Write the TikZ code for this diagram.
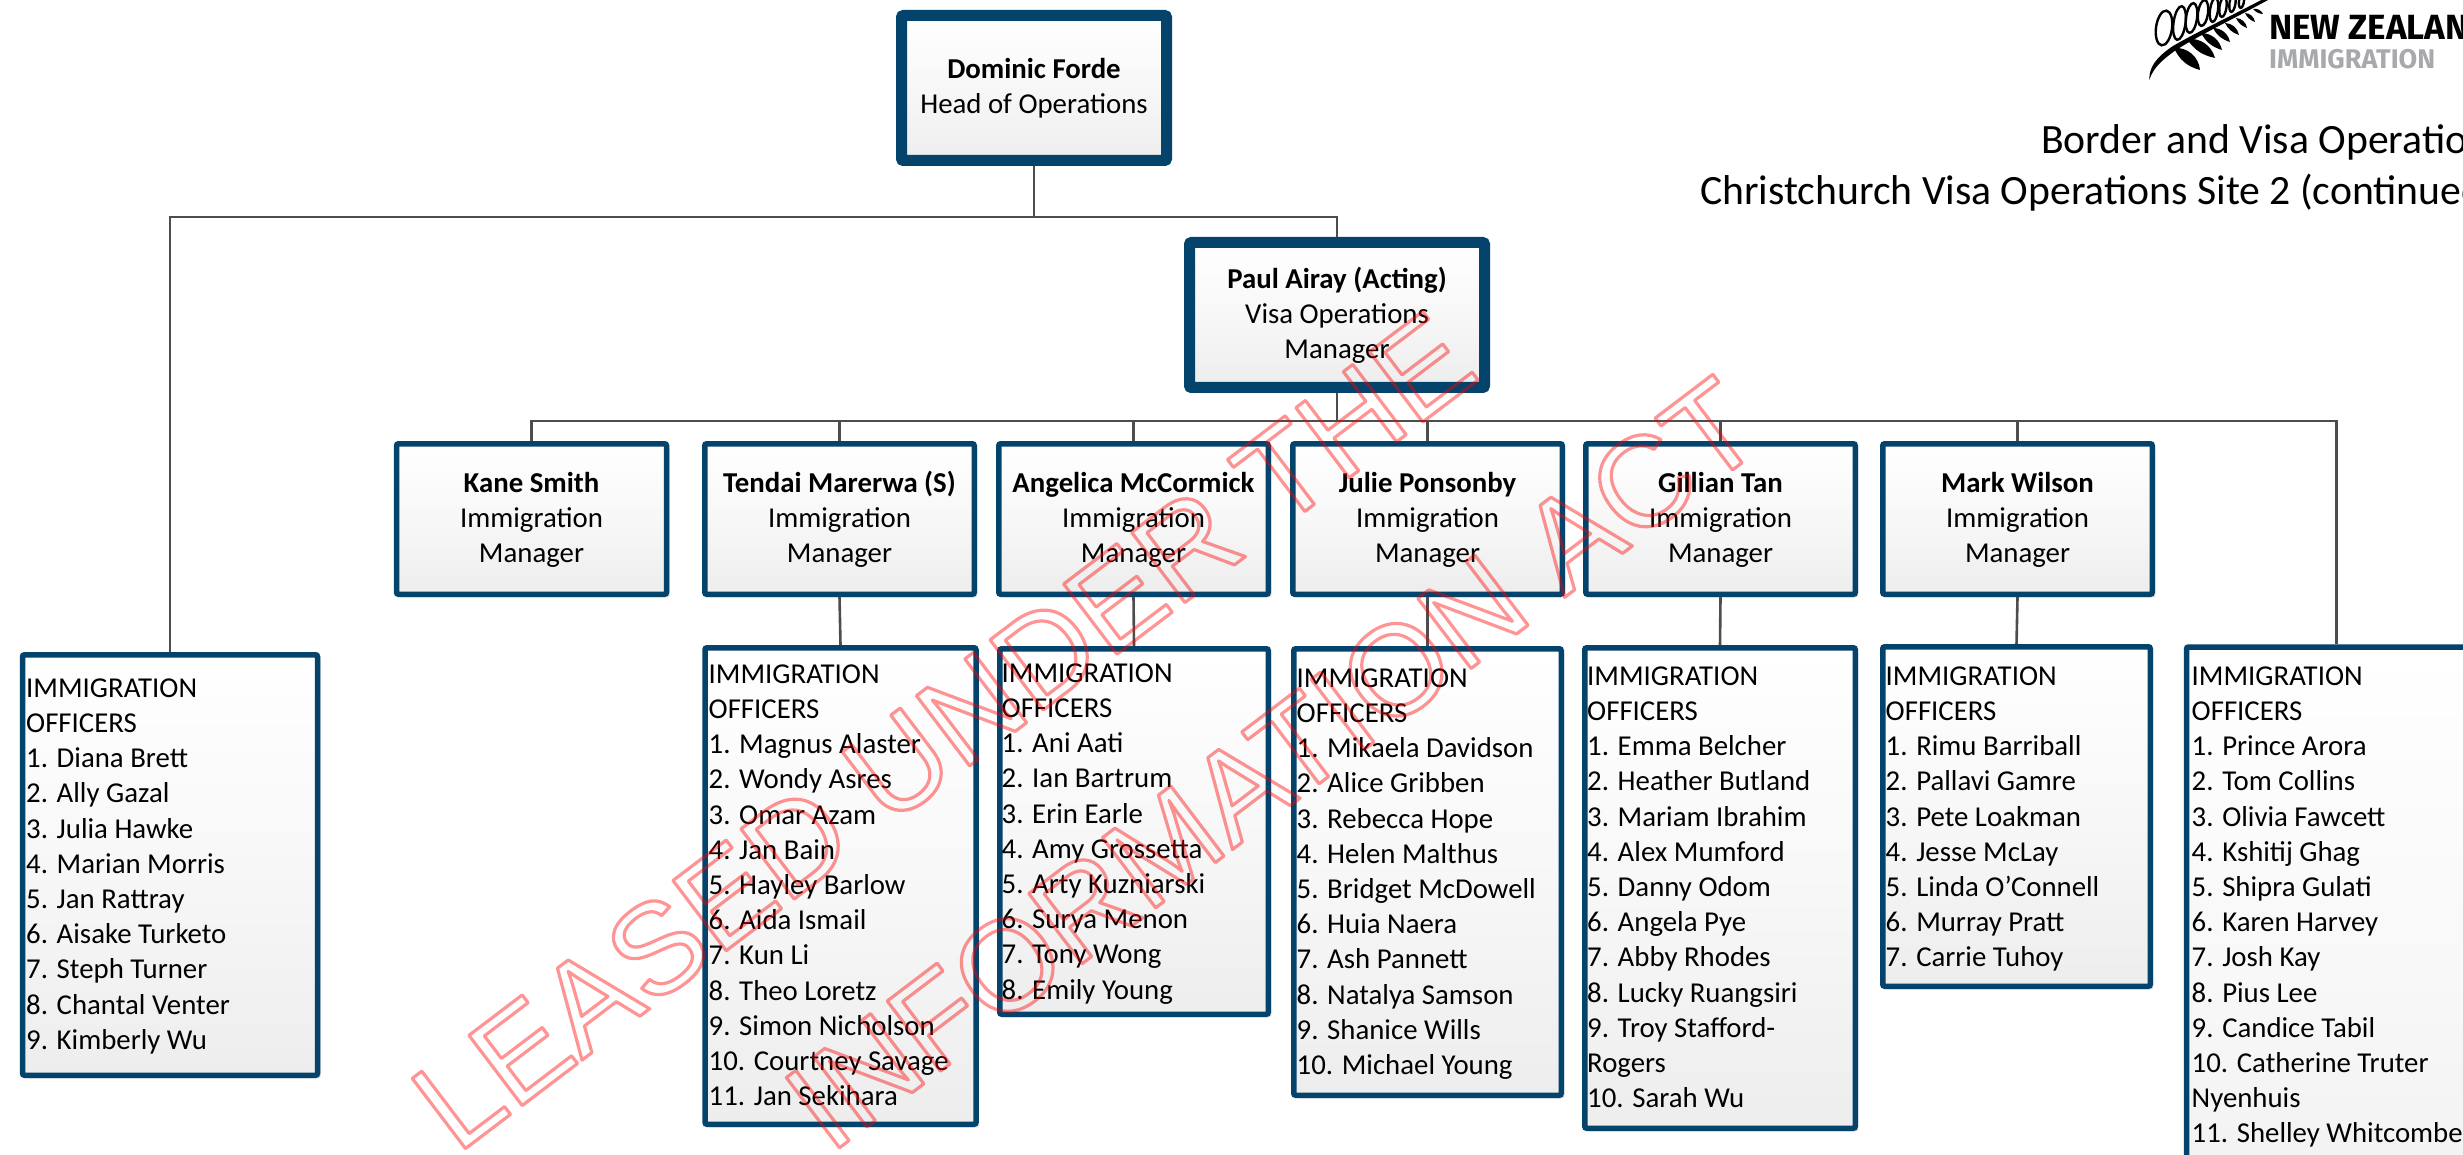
\documentclass[tikz,border=0pt]{standalone}
\usepackage{fontspec}
\setmainfont{Carlito}
\newfontfamily\wmfont{Liberation Sans}
\newfontfamily\logofont{Fira Sans}
\usetikzlibrary{shadows}
\definecolor{navy}{HTML}{03436C}
\definecolor{conn}{HTML}{4D4D4D}
\definecolor{wm}{HTML}{FF0000}
\definecolor{logogrey}{HTML}{A7A9AC}
\newcommand\rup{\rule{0pt}{25pt}}
\newcommand\rdn{\rule[-8pt]{0pt}{8pt}}
\newcommand\wmtext[1]{\special{pdf:code q 1 Tr 1 j 3.2 w 1 0 0 RG}#1\special{pdf:code Q}}
\tikzset{
  x=1pt,y=-1pt,
  box/.style={rectangle,draw=navy,rounded corners=2pt,top color=white,bottom color=black!7,
    middle color=black!3,drop shadow={shadow xshift=3pt,shadow yshift=-3pt,opacity=.14,fill=black},
    inner sep=0pt,align=center,font=\fontsize{28.8}{35}\selectfont},
  bighead/.style={box,line width=11pt},
  mgr/.style={box,line width=5.5pt},
  officers/.style={box,line width=5.5pt},
  listtext/.style={anchor=north west,inner sep=0pt,align=left,font=\fontsize{28.8}{35.2}\selectfont},
  link/.style={draw=conn,line width=2.6pt,line join=miter},
  leaf/.style={fill=black,draw=none},
  loopleaf/.style={draw=black,line width=2.4pt},
  wmark/.style={inner sep=0pt,rotate=37.2,anchor=base west,font=\wmfont\fontsize{128}{128}\selectfont},
}
\begin{document}
\begin{tikzpicture}
\useasboundingbox (0,0) rectangle (2463,1155);
\clip (0,0) rectangle (2463,1155);
% managers
\node[bighead,minimum width=265pt,minimum height=145pt] (dom) at (1034,88) {\rup\textbf{Dominic Forde}\\Head of Operations\rdn};
\node[bighead,minimum width=295pt,minimum height=145pt] (paul) at (1337,315) {\rup\textbf{Paul Airay (Acting)}\\Visa Operations\\Manager\rdn};
\node[mgr,minimum width=270pt,minimum height=150.5pt] (kane) at (531.5,519) {\rup\textbf{Kane Smith}\\Immigration\\Manager\rdn};
\node[mgr,minimum width=269.5pt,minimum height=150.5pt] (tendai) at (839.5,519) {\rup\textbf{Tendai Marerwa (S)}\\Immigration\\Manager\rdn};
\node[mgr,minimum width=269.5pt,minimum height=150.5pt] (angel) at (1133.5,519) {\rup\textbf{Angelica McCormick}\\Immigration\\Manager\rdn};
\node[mgr,minimum width=269.5pt,minimum height=150.5pt] (julie) at (1427.5,519) {\rup\textbf{Julie Ponsonby}\\Immigration\\Manager\rdn};
\node[mgr,minimum width=269.5pt,minimum height=150.5pt] (gill) at (1720.5,519) {\rup\textbf{Gillian Tan}\\Immigration\\Manager\rdn};
\node[mgr,minimum width=269.5pt,minimum height=150.5pt] (mark) at (2017.5,519) {\rup\textbf{Mark Wilson}\\Immigration\\Manager\rdn};
% officer boxes
\node[officers,minimum width=295pt,minimum height=420.5pt] (oa) at (170,865) {};
\node[officers,minimum width=271pt,minimum height=476.5pt] (ob) at (840.5,886) {};
\node[officers,minimum width=268.5pt,minimum height=365.5pt] (oc) at (1134,831.5) {};
\node[officers,minimum width=267.5pt,minimum height=446.5pt] (od) at (1427.5,872) {};
\node[officers,minimum width=270.5pt,minimum height=480.5pt] (oe) at (1720,888) {};
\node[officers,minimum width=267.5pt,minimum height=339.5pt] (of) at (2016.5,816.5) {};
\node[officers,minimum width=300pt,minimum height=700pt] (og) at (2336.5,997) {};
% connector points
\coordinate (busA) at (1034,217);
\coordinate (busAl) at (170,217);
\coordinate (busAr) at (1337,217);
\coordinate (busB) at (1337,421);
\coordinate (busBl) at (531.5,421);
\coordinate (busBr) at (2336.5,421);
\begin{scope}[link]
\draw[link] (dom.south) -- (busA);
\draw[link] (oa.north) -- (busAl) -- (busAr) -- (paul.north);
\draw[link] (paul.south) -- (busB);
\draw[link] (kane.north) -- (busBl) -- (busBr) -- (og.north);
\draw[link] (tendai.north) -- (tendai.north |- busB);
\draw[link] (angel.north) -- (angel.north |- busB);
\draw[link] (julie.north) -- (julie.north |- busB);
\draw[link] (gill.north) -- (gill.north |- busB);
\draw[link] (mark.north) -- (mark.north |- busB);
\draw[link] (tendai.south) -- (ob.north);
\draw[link] (angel.south) -- (oc.north);
\draw[link] (julie.south) -- (od.north);
\draw[link] (gill.south) -- (oe.north);
\draw[link] (mark.south) -- (of.north);
\end{scope}
% list texts
\node[listtext] (ta) at (26,678.5) {IMMIGRATION\\OFFICERS\\1. Diana Brett\\2. Ally Gazal\\3. Julia Hawke\\4. Marian Morris\\5. Jan Rattray\\6. Aisake Turketo\\7. Steph Turner\\8. Chantal Venter\\9. Kimberly Wu};
\node[listtext] (tb) at (708.5,664.5) {IMMIGRATION\\OFFICERS\\1. Magnus Alaster\\2. Wondy Asres\\3. Omar Azam\\4. Jan Bain\\5. Hayley Barlow\\6. Aida Ismail\\7. Kun Li\\8. Theo Loretz\\9. Simon Nicholson\\10. Courtney Savage\\11. Jan Sekihara};
\node[listtext] (tc) at (1001.5,663.5) {IMMIGRATION\\OFFICERS\\1. Ani Aati\\2. Ian Bartrum\\3. Erin Earle\\4. Amy Grossetta\\5. Arty Kuzniarski\\6. Surya Menon\\7. Tony Wong\\8. Emily Young};
\node[listtext] (td) at (1296.5,668.5) {IMMIGRATION\\OFFICERS\\1. Mikaela Davidson\\2. Alice Gribben\\3. Rebecca Hope\\4. Helen Malthus\\5. Bridget McDowell\\6. Huia Naera\\7. Ash Pannett\\8. Natalya Samson\\9. Shanice Wills\\10. Michael Young};
\node[listtext] (te) at (1587,666.5) {IMMIGRATION\\OFFICERS\\1. Emma Belcher\\2. Heather Butland\\3. Mariam Ibrahim\\4. Alex Mumford\\5. Danny Odom\\6. Angela Pye\\7. Abby Rhodes\\8. Lucky Ruangsiri\\9. Troy Stafford-\\Rogers\\10. Sarah Wu};
\node[listtext] (tf) at (1885.5,666.5) {IMMIGRATION\\OFFICERS\\1. Rimu Barriball\\2. Pallavi Gamre\\3. Pete Loakman\\4. Jesse McLay\\5. Linda O’Connell\\6. Murray Pratt\\7. Carrie Tuhoy};
\node[listtext] (tg) at (2191.5,666.5) {IMMIGRATION\\OFFICERS\\1. Prince Arora\\2. Tom Collins\\3. Olivia Fawcett\\4. Kshitij Ghag\\5. Shipra Gulati\\6. Karen Harvey\\7. Josh Kay\\8. Pius Lee\\9. Candice Tabil\\10. Catherine Truter\\Nyenhuis\\11. Shelley Whitcombe};
% title
\node[anchor=base west,inner sep=0pt,font=\fontsize{41.7}{51}\selectfont] (t1) at (2041,154) {Border and Visa Operations};
\node[anchor=base west,inner sep=0pt,font=\fontsize{41.7}{51}\selectfont] (t2) at (1700,205) {Christchurch Visa Operations Site 2 (continued)};
% logo
\node[anchor=base west,inner sep=0pt,font=\logofont\bfseries\fontsize{35}{35}\selectfont] (l1) at (2269,40) {NEW ZEALAND};
\node[anchor=base west,inner sep=0pt,text=logogrey,font=\logofont\bfseries\fontsize{27}{27}\selectfont] (l2) at (2269,69) {IMMIGRATION};
% fern
\fill[black] (2149.3,80) .. controls (2149,68) and (2155,58) .. (2173,46) .. controls (2195,33) and (2235,14) .. (2265,-2) -- (2268,0) .. controls (2235,18) and (2198,36) .. (2176,50) .. controls (2162,60) and (2153,68) .. (2149.3,80) -- cycle;
\begin{scope}[leaf]
\fill (2174,48) to[bend left=45] (2200,70) to[bend left=25] cycle;
\fill (2187,39) to[bend left=40] (2215,58) to[bend left=22] cycle;
\fill (2201,33) to[bend left=38] (2222,50) to[bend left=22] cycle;
\fill (2213,28) to[bend left=38] (2230,42) to[bend left=22] cycle;
\fill (2225,23) to[bend left=38] (2239,35) to[bend left=22] cycle;
\fill (2236,18) to[bend left=38] (2247,28) to[bend left=22] cycle;
\fill (2245,13) to[bend left=38] (2255,22) to[bend left=22] cycle;
\fill (2253,9) to[bend left=38] (2263,14) to[bend left=22] cycle;
\end{scope}
\begin{scope}[loopleaf]
\draw[rotate around={-8:(2164,28)}] (2164,28) ellipse [x radius=8,y radius=17.5];
\draw[rotate around={-8:(2179.5,23)}] (2179.5,23) ellipse [x radius=6,y radius=17];
\draw[rotate around={-8:(2191.5,18)}] (2191.5,18) ellipse [x radius=5.5,y radius=15];
\draw[rotate around={-8:(2203,13)}] (2203,13) ellipse [x radius=5,y radius=13];
\draw[rotate around={-8:(2214,10)}] (2214,10) ellipse [x radius=4,y radius=12];
\draw[rotate around={-8:(2223,7)}] (2223,7) ellipse [x radius=3.5,y radius=10];
\draw[rotate around={-8:(2232.5,3)}] (2232.5,3) ellipse [x radius=3,y radius=9];
\draw[rotate around={-8:(2241.5,1)}] (2241.5,1) ellipse [x radius=2.5,y radius=7];
\end{scope}
% watermark
\begin{scope}[draw opacity=.42]
\node[wmark] (w1) at (457,1155) {\wmtext{LEASED UNDER THE}};
\node[wmark] (w2) at (830,1155) {\wmtext{INFORMATION ACT}};
\end{scope}
\end{tikzpicture}
\end{document}
